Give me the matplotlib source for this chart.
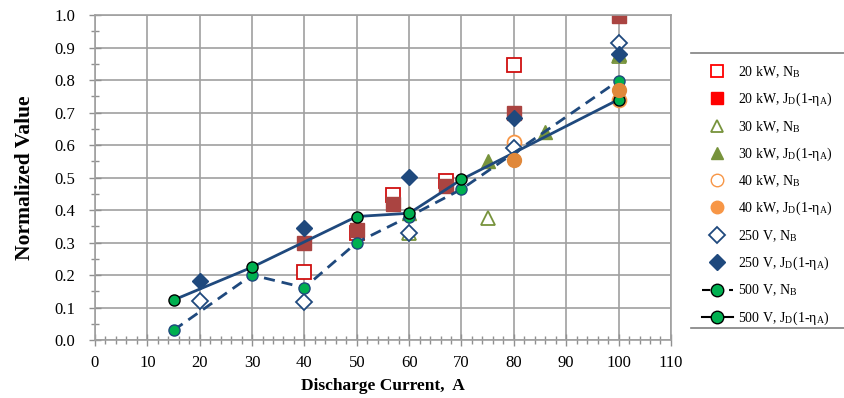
import matplotlib
matplotlib.use("Agg")
import matplotlib.pyplot as plt
from matplotlib.lines import Line2D
from matplotlib.ticker import MultipleLocator

plt.rcParams['font.family'] = ['Liberation Serif', 'DejaVu Serif']
plt.rcParams['mathtext.fontset'] = 'stix'

# data
kw20_nb_x = [40, 50, 57, 67, 80]
kw20_nb_y = [0.21, 0.33, 0.445, 0.49, 0.845]
kw20_jd_x = [40, 50, 57, 67, 80, 100]
kw20_jd_y = [0.30, 0.34, 0.42, 0.475, 0.70, 0.997]
kw30_nb_x = [60, 75, 100]
kw30_nb_y = [0.33, 0.375, 0.875]
kw30_jd_x = [60, 75, 86, 100]
kw30_jd_y = [0.39, 0.55, 0.64, 0.88]
kw40_nb_x = [80, 100]
kw40_nb_y = [0.61, 0.74]
kw40_jd_x = [80, 100]
kw40_jd_y = [0.555, 0.77]
v250_nb_x = [20, 40, 60, 80, 100]
v250_nb_y = [0.12, 0.118, 0.33, 0.59, 0.915]
v250_jd_x = [20, 40, 60, 80, 100]
v250_jd_y = [0.183, 0.345, 0.502, 0.683, 0.88]
v500_nb_x = [15, 30, 40, 50, 60, 70, 100]
v500_nb_y = [0.03, 0.20, 0.161, 0.30, 0.38, 0.464, 0.798]
v500_jd_x = [15, 30, 50, 60, 70, 100]
v500_jd_y = [0.123, 0.224, 0.38, 0.39, 0.494, 0.74]

NB = r'N$_\mathregular{B}$'
JD = r'J$_\mathregular{D}$(1-η$_\mathregular{A}$)'
labels = ['20 kW, ' + NB, '20 kW, ' + JD,
          '30 kW, ' + NB, '30 kW, ' + JD,
          '40 kW, ' + NB, '40 kW, ' + JD,
          '250 V, ' + NB, '250 V, ' + JD,
          '500 V, ' + NB, '500 V, ' + JD]

RED_OPEN = '#D01010'
RED_FILL = '#AA4441'
OLIVE = '#77933C'
ORANGE_OPEN = '#F79646'
ORANGE_FILL = '#E0883A'
NAVY = '#1F497D'
GREEN = '#00B050'

fig = plt.figure(figsize=(8.45, 3.98), dpi=100)
ax = fig.add_axes([0.1124, 0.1457, 0.6816, 0.8166])

ax.plot(v500_nb_x, v500_nb_y, ls=(0, (4, 2.5)), color=NAVY, lw=2, marker='o', ms=8,
        mfc=GREEN, mec=NAVY, mew=1, zorder=3)
ax.plot(v500_jd_x, v500_jd_y, ls='-', color=NAVY, lw=2, marker='o', ms=8,
        mfc=GREEN, mec='black', mew=1, zorder=3)
ax.plot(kw20_nb_x, kw20_nb_y, ls='none', marker='s', ms=10, mfc='white', mec=RED_OPEN, mew=1.3, zorder=2)
ax.plot(kw20_jd_x, kw20_jd_y, ls='none', marker='s', ms=10, mfc=RED_FILL, mec=RED_FILL, zorder=2)
ax.plot(kw30_nb_x, kw30_nb_y, ls='none', marker='^', ms=10, mfc='white', mec=OLIVE, mew=1.3, zorder=2)
ax.plot(kw30_jd_x, kw30_jd_y, ls='none', marker='^', ms=10, mfc=OLIVE, mec=OLIVE, zorder=2)
ax.plot(kw40_nb_x, kw40_nb_y, ls='none', marker='o', ms=10, mfc='white', mec=ORANGE_OPEN, mew=1.3, zorder=2)
ax.plot(kw40_jd_x, kw40_jd_y, ls='none', marker='o', ms=10, mfc=ORANGE_FILL, mec=ORANGE_FILL, zorder=4)
ax.plot(v250_nb_x, v250_nb_y, ls='none', marker='D', ms=8, mfc='white', mec=NAVY, mew=1.3, zorder=2)
ax.plot(v250_jd_x, v250_jd_y, ls='none', marker='D', ms=8, mfc=NAVY, mec=NAVY, zorder=2)

ax.set_xlim(0, 110)
ax.set_ylim(0, 1.0)
ax.xaxis.set_major_locator(MultipleLocator(10))
ax.xaxis.set_minor_locator(MultipleLocator(2))
ax.yaxis.set_major_locator(MultipleLocator(0.1))
ax.yaxis.set_minor_locator(MultipleLocator(0.05))
ax.yaxis.set_major_formatter(matplotlib.ticker.FormatStrFormatter('%.1f'))
ax.grid(True, which='major', color='#A0A0A0', lw=1.2)
ax.set_axisbelow(True)
for s in ax.spines.values():
    s.set_color('#A0A0A0')
    s.set_linewidth(1.2)
ax.tick_params(which='both', direction='inout', color='#909090', labelsize=12, width=1)
ax.tick_params(which='major', length=8)
ax.tick_params(which='minor', length=6)
ax.tick_params(axis='y', which='major', pad=10)
ax.tick_params(axis='x', which='major', pad=7)
ax.set_xlabel('Discharge Current,  A', fontsize=12.5, fontweight='bold', labelpad=5)
ax.set_ylabel('Normalized Value', fontsize=15.5, fontweight='bold', labelpad=14)

handles = [
    Line2D([], [], ls='none', marker='s', ms=9, mfc='white', mec='#FF0000', mew=1.3),
    Line2D([], [], ls='none', marker='s', ms=9, mfc='#FF0000', mec='#FF0000'),
    Line2D([], [], ls='none', marker='^', ms=9, mfc='white', mec=OLIVE, mew=1.3),
    Line2D([], [], ls='none', marker='^', ms=9, mfc=OLIVE, mec=OLIVE),
    Line2D([], [], ls='none', marker='o', ms=9, mfc='white', mec=ORANGE_OPEN, mew=1.0),
    Line2D([], [], ls='none', marker='o', ms=9, mfc=ORANGE_OPEN, mec=ORANGE_OPEN),
    Line2D([], [], ls='none', marker='D', ms=8, mfc='white', mec=NAVY, mew=1.3),
    Line2D([], [], ls='none', marker='D', ms=8, mfc=NAVY, mec=NAVY),
    Line2D([], [], ls=(0, (4, 2.5)), color='black', lw=1.5, marker='o', ms=9, mfc=GREEN, mec='black'),
    Line2D([], [], ls='-', color='black', lw=1.5, marker='o', ms=9, mfc=GREEN, mec='black'),
]
fig.legend(handles, labels, loc='upper left', bbox_to_anchor=(0.816, 0.87), frameon=False,
           fontsize=10, handlelength=2.2, labelspacing=0.78, handletextpad=0.4)
fig.add_artist(Line2D([0.818, 1.0], [1 - 53/398, 1 - 53/398], color='#808080', lw=1.2))
fig.add_artist(Line2D([0.818, 1.0], [1 - 328/398, 1 - 328/398], color='#808080', lw=1.2))

fig.savefig('out.png', dpi=100)
